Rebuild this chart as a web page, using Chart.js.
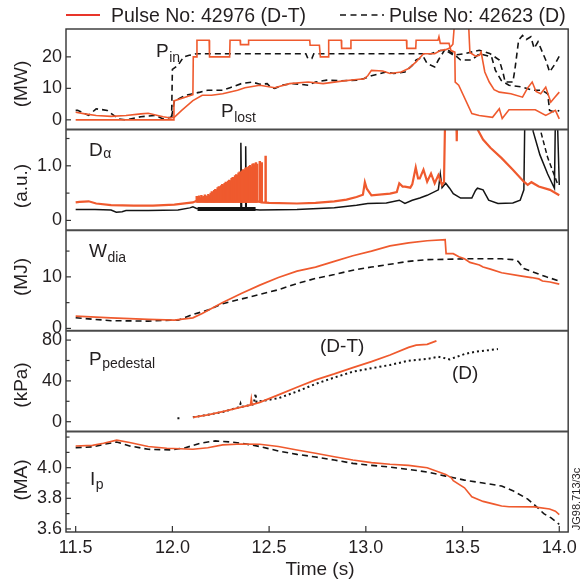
<!DOCTYPE html>
<html>
<head>
<meta charset="utf-8">
<script src="https://cdn.jsdelivr.net/npm/chart.js@4.4.1/dist/chart.umd.min.js"></script>
<style>
  html, body { margin: 0; padding: 0; background: #fff; }
</style>
</head>
<body>
<canvas id="chartCanvas" width="582" height="587"></canvas>
<script>
// time axis
const timeTicks = [11.5, 12.0, 12.5, 13.0, 13.5, 14.0];

// panel 1: P_in / P_lost (MW)
const pinDT = [[11.5,0],[12.006,0],[12.008,6],[12.106,8],[12.108,20],[12.125,20],[12.127,25.3],[12.19,25.3],[12.192,20],[12.296,20],[12.298,25.3],[12.35,25.3],[12.352,23.9],[12.392,23.9],[12.394,25.3],[12.71,25.3],[12.712,23.7],[12.76,23.7],[12.765,20],[12.806,20],[12.808,25.3],[12.873,25.3],[12.875,22.7],[12.921,22.7],[12.923,25.3],[13.21,25.3],[13.212,22.7],[13.258,22.7],[13.26,25.3],[13.373,25.3],[13.378,26.4],[13.385,24.3],[13.43,24.3],[13.44,22],[13.46,21.5],[13.462,12],[13.48,11],[13.548,2],[13.586,1.4],[13.655,0.8],[13.69,3.5],[13.705,0.4],[13.74,3.2],[13.876,3.2],[13.93,1.4],[13.98,3],[14.0,0.3]];
const plostDT = [[11.5,2.4],[11.548,1.9],[11.606,1.4],[11.683,1.1],[11.76,1.4],[11.837,1.9],[11.875,2.1],[11.952,1.0],[11.99,0.6],[12.01,0.8],[12.048,3.0],[12.106,6.1],[12.154,7.8],[12.202,7.8],[12.26,8.3],[12.337,9.4],[12.375,10.2],[12.452,11],[12.529,10.2],[12.606,11.5],[12.702,12],[12.779,11.5],[12.875,12.3],[12.952,12.8],[12.99,13],[13.01,14],[13.029,15.7],[13.087,15.5],[13.125,14.7],[13.183,15.2],[13.221,16.3],[13.26,18.4],[13.298,21],[13.356,21],[13.385,22],[13.413,22.3],[13.433,22.8],[13.45,24],[13.46,32],[13.53,32],[13.538,21.4],[13.567,20.2],[13.587,20.5],[13.596,21.5],[13.615,15.2],[13.638,12],[13.663,9.6],[13.69,8.8],[13.75,8.3],[13.81,7.2],[13.835,10],[13.86,12],[13.88,9],[13.904,8.3],[13.93,10.4],[13.956,5.6],[13.975,7],[14.0,8.8]];
const pinD = [[11.5,3.0],[11.51,3.0],[11.567,1.4],[11.606,3.5],[11.663,3.0],[11.721,0.3],[11.76,0.0],[11.837,1.0],[11.913,1.4],[11.952,0.3],[11.99,0.8],[11.996,1.0],[12.0,16],[12.029,17.3],[12.058,20],[12.087,20.5],[12.125,21],[12.69,21],[12.70,19.5],[12.721,19.5],[12.731,21],[13.337,21],[13.385,22],[13.413,22],[13.442,21],[13.452,20.5],[13.51,21],[13.586,22.1],[13.64,21.1],[13.69,19],[13.71,14.8],[13.72,12],[13.76,12],[13.77,15.7],[13.79,25.3],[13.81,26.8],[13.83,25.5],[13.853,26.4],[13.87,22.7],[13.89,24.8],[13.93,19],[13.95,15.2],[13.98,17.9],[14.0,20.2]];
const plostD = [[11.996,1.0],[12.01,6],[12.067,7.8],[12.144,8.8],[12.183,9.4],[12.26,9.4],[12.298,10.2],[12.356,11.5],[12.413,12],[12.452,11.3],[12.49,11.5],[12.51,10.2],[12.529,10],[12.567,11],[12.625,11.5],[12.702,11],[12.74,12],[12.798,12.6],[12.875,12.4],[12.952,12.6],[12.99,13.1],[13.029,14],[13.106,15.2],[13.144,14.7],[13.202,15.2],[13.24,17.3],[13.26,19],[13.298,20],[13.317,17.9],[13.356,16.8],[13.375,19],[13.413,22.7],[13.452,21],[13.49,19],[13.548,19],[13.587,21],[13.65,20],[13.67,15.7],[13.70,12.5],[13.74,11],[13.81,10.4],[13.86,9.4],[13.91,9.4],[13.94,8.3],[13.95,3],[13.98,2.4],[14.0,3]];
const powerTicks = [0, 10, 20];
const powerTickText = ['0', '10', '20'];

// panel 2: D-alpha (a.u.)
const daDT = [[11.5,0.33],[11.52,0.34],[11.567,0.35],[11.606,0.31],[11.683,0.28],[11.8,0.27],[11.9,0.27],[12.01,0.29],[12.106,0.33],[12.125,0.36],[12.2,0.35],[12.3,0.35],[12.44,0.35],[12.46,0.33],[12.5,0.32],[12.644,0.31],[12.74,0.32],[12.837,0.35],[12.9,0.38],[12.952,0.43],[12.985,0.47],[12.995,0.70],[13.005,0.58],[13.029,0.46],[13.125,0.49],[13.16,0.52],[13.173,0.68],[13.19,0.62],[13.202,0.62],[13.23,0.60],[13.24,0.66],[13.258,0.97],[13.27,0.77],[13.279,0.77],[13.298,0.93],[13.317,0.71],[13.337,0.86],[13.356,0.68],[13.375,0.83],[13.394,0.65],[13.404,0.70],[13.413,2.5],[13.465,2.5],[13.47,1.45],[13.475,2.5],[13.57,2.5],[13.58,1.65],[13.606,1.48],[13.644,1.33],[13.702,1.14],[13.76,0.93],[13.817,0.71],[13.837,0.65],[13.856,0.70],[13.894,0.62],[13.952,0.56],[14.0,0.46]];
// ELM bursts: dense block, then isolated spikes
const elmTimes = [12.126,12.132,12.138,12.144,12.150,12.156,12.162,12.168,12.174,12.180,12.186,12.192,12.198,12.204,12.210,12.216,12.222,12.228,12.234,12.240,12.246,12.252,12.258,12.264,12.270,12.276,12.282,12.288,12.294,12.300,12.306,12.312,12.318,12.324,12.330,12.336,12.342,12.348,12.354,12.360,12.366,12.372,12.378,12.384,12.390,12.396,12.402,12.408,12.414,12.420,12.426,12.432,12.438,12.452,12.462,12.482];
const elmPeaks = [0.44,0.41,0.45,0.42,0.46,0.43,0.44,0.47,0.45,0.44,0.48,0.46,0.50,0.53,0.51,0.55,0.57,0.56,0.60,0.62,0.61,0.64,0.66,0.65,0.68,0.70,0.69,0.72,0.74,0.73,0.77,0.79,0.78,0.82,0.84,0.83,0.87,0.89,0.88,0.91,0.93,0.92,0.96,0.97,0.95,0.99,1.01,0.98,1.03,1.04,1.02,1.06,1.03,1.08,1.06,1.18];
const elmBase = 0.33;
const daD = [[11.5,0.20],[11.6,0.20],[11.683,0.19],[11.71,0.15],[11.74,0.16],[11.76,0.18],[11.875,0.18],[12.029,0.19],[12.09,0.23],[12.106,0.25],[12.125,0.22],[12.35,0.21],[12.354,1.42],[12.358,0.21],[12.376,0.21],[12.379,1.36],[12.382,0.21],[12.452,0.19],[12.644,0.20],[12.837,0.23],[12.952,0.28],[13.01,0.31],[13.106,0.32],[13.173,0.37],[13.202,0.31],[13.24,0.37],[13.279,0.41],[13.317,0.46],[13.375,0.56],[13.385,0.85],[13.394,0.60],[13.413,0.68],[13.433,0.59],[13.452,0.49],[13.49,0.41],[13.548,0.41],[13.567,0.55],[13.577,0.59],[13.606,0.56],[13.635,0.37],[13.683,0.31],[13.76,0.32],[13.798,0.37],[13.817,0.56],[13.822,1.9],[13.86,1.9],[13.865,1.63],[13.9,1.20],[13.94,0.85],[13.975,0.59],[13.98,1.9],[13.992,1.65],[14.0,0.65]];
const daDelm = [[12.13,0.21],[12.43,0.21]];
const daD2 = [[13.9,1.9],[13.905,1.62],[13.94,1.15],[13.99,0.68]];
const daTicks = [0, 0.5, 1.0, 1.5];
const daTickText = ['0', '', '1.0', ''];

// panel 3: W_dia (MJ)
const wDT = [[11.5,2.4],[11.683,2.06],[11.875,1.74],[12.01,1.6],[12.106,2.06],[12.154,2.9],[12.26,5.03],[12.356,6.77],[12.452,8.4],[12.548,9.87],[12.644,11.1],[12.74,11.9],[12.837,13.0],[12.933,14.1],[13.029,15.0],[13.125,16.0],[13.221,16.6],[13.317,17.0],[13.41,17.2],[13.415,14.5],[13.452,14.5],[13.481,13.9],[13.51,13.5],[13.538,12.8],[13.587,12.3],[13.606,11.9],[13.644,11.5],[13.702,10.8],[13.798,10.2],[13.856,9.87],[13.894,9.6],[13.913,9.2],[13.952,9.0],[14.0,8.6]];
const wD = [[11.5,2.06],[11.683,1.5],[11.875,1.42],[11.99,1.6],[12.029,1.6],[12.106,2.7],[12.183,3.55],[12.26,4.8],[12.356,5.7],[12.452,6.6],[12.548,7.5],[12.644,8.7],[12.74,9.7],[12.837,10.45],[12.933,11.3],[13.029,11.9],[13.125,12.45],[13.221,13.0],[13.317,13.35],[13.413,13.4],[13.51,13.5],[13.606,13.5],[13.702,13.5],[13.76,13.35],[13.788,13.0],[13.817,11.6],[13.875,10.8],[13.933,10.0],[14.0,9.2]];
const wTicks = [0, 5, 10, 15];
const wTickText = ['0', '', '10', ''];

// panel 4: P_pedestal (kPa)
const ppedDT = [[12.106,4.2],[12.183,6.8],[12.26,10.0],[12.356,14.3],[12.404,16.4],[12.408,22.0],[12.412,16.8],[12.452,18.9],[12.548,26.3],[12.644,33.8],[12.74,41.0],[12.837,46.8],[12.933,53.0],[13.029,58.9],[13.125,65.4],[13.221,72.8],[13.26,75.1],[13.317,75.8],[13.365,79.3]];
const ppedD = [[12.026,3.3],[12.045,3.3],[12.06,null],[12.106,4.3],[12.183,6.8],[12.26,9.5],[12.346,14.3],[12.352,17.6],[12.356,14.5],[12.42,17.0],[12.43,27.5],[12.435,19.0],[12.452,20.0],[12.548,23.0],[12.644,29.6],[12.74,37.0],[12.837,43.3],[12.933,49.0],[13.029,52.4],[13.125,55.6],[13.221,59.8],[13.317,61.5],[13.375,63.7],[13.433,61.1],[13.51,66.3],[13.567,68.6],[13.683,71.2]];
const ppedTicks = [0, 20, 40, 60, 80];
const ppedTickText = ['0', '', '40', '', '80'];

// panel 5: I_p (MA)
const ipDT = [[11.5,4.142],[11.587,4.146],[11.644,4.16],[11.712,4.18],[11.779,4.164],[11.875,4.138],[11.971,4.127],[12.106,4.12],[12.183,4.13],[12.26,4.149],[12.356,4.155],[12.452,4.153],[12.548,4.138],[12.644,4.116],[12.74,4.094],[12.837,4.072],[12.933,4.05],[13.029,4.033],[13.125,4.022],[13.221,4.015],[13.317,4.0],[13.413,3.956],[13.442,3.934],[13.452,3.915],[13.51,3.869],[13.548,3.81],[13.606,3.78],[13.663,3.762],[13.702,3.75],[13.74,3.745],[13.87,3.744],[13.95,3.73],[13.98,3.716],[14.0,3.694]];
const ipD = [[11.5,4.131],[11.587,4.136],[11.644,4.152],[11.712,4.168],[11.779,4.142],[11.875,4.12],[11.99,4.116],[12.067,4.13],[12.144,4.16],[12.221,4.175],[12.298,4.168],[12.356,4.16],[12.452,4.138],[12.548,4.109],[12.644,4.087],[12.74,4.07],[12.837,4.05],[12.933,4.028],[13.029,4.015],[13.125,4.004],[13.221,3.989],[13.317,3.972],[13.413,3.945],[13.51,3.919],[13.606,3.9],[13.702,3.88],[13.76,3.85],[13.837,3.795],[13.88,3.748],[13.92,3.70],[13.958,3.672],[14.0,3.63]];
const ipTicks = [3.6, 3.7, 3.8, 3.9, 4.0, 4.1, 4.2];
const ipTickText = ['3.6', '', '3.8', '', '4.0', '', ''];

const RED = '#ef5a2e';
const BLACK = '#141414';
const INK = '#231f20';
const FONT = '"Liberation Sans", Arial, Helvetica, sans-serif';

const xy = arr => arr.map(p => ({ x: p[0], y: p[1] }));

function line(data, axis, color, width, dash) {
  return {
    data: data, yAxisID: axis, borderColor: color, borderWidth: width,
    borderDash: dash || [], pointRadius: 0, tension: 0, fill: false, spanGaps: false
  };
}

function yAxis(min, max, vals, text) {
  return {
    type: 'linear', position: 'left', stack: 'panels', stackWeight: 1,
    min: min, max: max,
    grid: { display: false, drawTicks: false },
    border: { display: false },
    afterBuildTicks: s => { s.ticks = vals.map(v => ({ value: v })); },
    afterFit: s => { s.width = 66; },
    ticks: {
      autoSkip: false, padding: 4, color: INK, font: { size: 18 },
      callback: (v, i) => text[i]
    },
    tickText: text
  };
}

const frame = {
  id: 'frame',
  afterDatasetsDraw(chart) {
    const ctx = chart.ctx;
    const a = chart.chartArea;
    const ids = ['yP', 'yDa', 'yW', 'yPed', 'yIp'];
    ctx.save();
    ctx.strokeStyle = '#333';
    ctx.lineWidth = 1.4;
    ctx.strokeRect(a.left, a.top, a.right - a.left, a.bottom - a.top);
    ctx.strokeStyle = '#4a4a4a';
    ctx.lineWidth = 2;
    ids.slice(1).forEach(id => {
      const y = chart.scales[id].top;
      ctx.beginPath(); ctx.moveTo(a.left, y); ctx.lineTo(a.right, y); ctx.stroke();
    });
    // tick marks, drawn inward
    ctx.strokeStyle = '#333';
    ctx.lineWidth = 1.2;
    ids.forEach(id => {
      const s = chart.scales[id];
      const txt = s.options.tickText;
      s.ticks.forEach((t, i) => {
        const y = s.getPixelForValue(t.value);
        const len = txt[i] ? 5 : 3.5;
        ctx.beginPath(); ctx.moveTo(a.left, y); ctx.lineTo(a.left + len, y); ctx.stroke();
      });
    });
    const xs = chart.scales.x;
    xs.ticks.forEach(t => {
      const x = xs.getPixelForValue(t.value);
      ctx.beginPath(); ctx.moveTo(x, a.bottom); ctx.lineTo(x, a.bottom - 6); ctx.stroke();
    });
    ctx.restore();
  },
  afterDraw(chart) {
    const ctx = chart.ctx;
    ctx.save();
    ctx.fillStyle = INK;
    ctx.textBaseline = 'alphabetic';
    ctx.textAlign = 'left';

    // legend
    ctx.strokeStyle = '#e8352a'; ctx.lineWidth = 2;
    ctx.beginPath(); ctx.moveTo(66, 15); ctx.lineTo(100, 15); ctx.stroke();
    ctx.strokeStyle = BLACK; ctx.lineWidth = 1.6; ctx.setLineDash([6, 4.5]);
    ctx.beginPath(); ctx.moveTo(340, 15); ctx.lineTo(384, 15); ctx.stroke();
    ctx.setLineDash([]);
    ctx.font = '19.5px ' + FONT;
    ctx.fillText('Pulse No: 42976 (D-T)', 111, 22);
    ctx.fillText('Pulse No: 42623 (D)', 389, 22);

    // quantity labels with subscripts
    const sub = (main, s, x, y, drop) => {
      ctx.font = '19px ' + FONT;
      ctx.fillText(main, x, y);
      const w = ctx.measureText(main).width;
      ctx.font = '14px ' + FONT;
      ctx.fillText(s, x + w + 0.5, y + drop);
    };
    sub('P', 'in', 156, 57, 5);
    sub('P', 'lost', 221, 117, 5);
    sub('D', '\u03b1', 89, 155.5, 2);
    sub('W', 'dia', 89, 256.5, 5);
    sub('P', 'pedestal', 89, 365, 3);
    sub('I', 'p', 90, 485, 4);

    ctx.font = '19px ' + FONT;
    ctx.textBaseline = 'middle';
    ctx.fillText('(D-T)', 320, 347);
    ctx.fillText('(D)', 452, 374);

    // axis titles
    ctx.textAlign = 'center';
    ctx.fillText('Time (s)', 320, 570);
    const units = [['(MW)', 84], ['(a.u.)', 186], ['(MJ)', 277], ['(kPa)', 385], ['(MA)', 480]];
    units.forEach(u => {
      ctx.save();
      ctx.translate(21.5, u[1]);
      ctx.rotate(-Math.PI / 2);
      ctx.fillText(u[0], 0, 0);
      ctx.restore();
    });
    ctx.font = '11px ' + FONT;
    ctx.save();
    ctx.translate(577, 499);
    ctx.rotate(-Math.PI / 2);
    ctx.fillText('JG98.713/3c', 0, 0);
    ctx.restore();
    ctx.restore();
  }
};

Chart.defaults.font.family = FONT;
Chart.defaults.color = INK;

// ELM bursts as thin floating bars from the base level up to each peak
const elmBars = {
  type: 'bar',
  data: elmTimes.map((t, i) => ({ x: t, y: [elmBase, elmPeaks[i]] })),
  yAxisID: 'yDa',
  backgroundColor: RED,
  borderWidth: 0,
  barThickness: 1.8,
  grouped: false
};

const ctx = document.getElementById('chartCanvas').getContext('2d');
const myChart = new Chart(ctx, {
  type: 'line',
  data: {
    datasets: [
      line(xy(pinDT), 'yP', RED, 1.6),
      line(xy(plostDT), 'yP', RED, 1.6),
      line(xy(daDT), 'yDa', RED, 2.2),
      elmBars,
      line(xy(wDT), 'yW', RED, 1.7),
      line(xy(ppedDT), 'yPed', RED, 1.8),
      line(xy(ipDT), 'yIp', RED, 1.6),
      line(xy(pinD), 'yP', BLACK, 1.6, [6, 4]),
      line(xy(plostD), 'yP', BLACK, 1.6, [6, 4]),
      line(xy(daD), 'yDa', BLACK, 1.5),
      line(xy(daDelm), 'yDa', BLACK, 4),
      line(xy(daD2), 'yDa', BLACK, 1.5, [5, 3]),
      line(xy(wD), 'yW', BLACK, 1.6, [6, 4]),
      line(xy(ppedD), 'yPed', BLACK, 2, [2, 3]),
      line(xy(ipD), 'yIp', BLACK, 1.6, [6, 4])
    ]
  },
  options: {
    responsive: false,
    animation: false,
    devicePixelRatio: 1,
    layout: { padding: { top: 29, right: 12, left: 0, bottom: 0 } },
    plugins: { legend: { display: false }, tooltip: { enabled: false } },
    scales: {
      x: {
        type: 'linear', position: 'bottom', min: 11.45, max: 14.046, offset: false,
        grid: { display: false, drawTicks: false, offset: false },
        border: { display: false },
        afterBuildTicks: s => { s.ticks = timeTicks.map(v => ({ value: v })); },
        afterFit: s => { s.height = 55; },
        ticks: { autoSkip: false, maxRotation: 0, padding: 5, color: INK, font: { size: 18 },
          callback: v => v.toFixed(1) }
      },
      yIp: yAxis(3.58, 4.237, ipTicks, ipTickText),
      yPed: yAxis(-9.5, 89.1, ppedTicks, ppedTickText),
      yW: yAxis(-0.46, 19.05, wTicks, wTickText),
      yDa: yAxis(-0.179, 1.663, daTicks, daTickText),
      yP: yAxis(-3.1, 28.85, powerTicks, powerTickText)
    }
  },
  plugins: [frame]
});
</script>
</body>
</html>
